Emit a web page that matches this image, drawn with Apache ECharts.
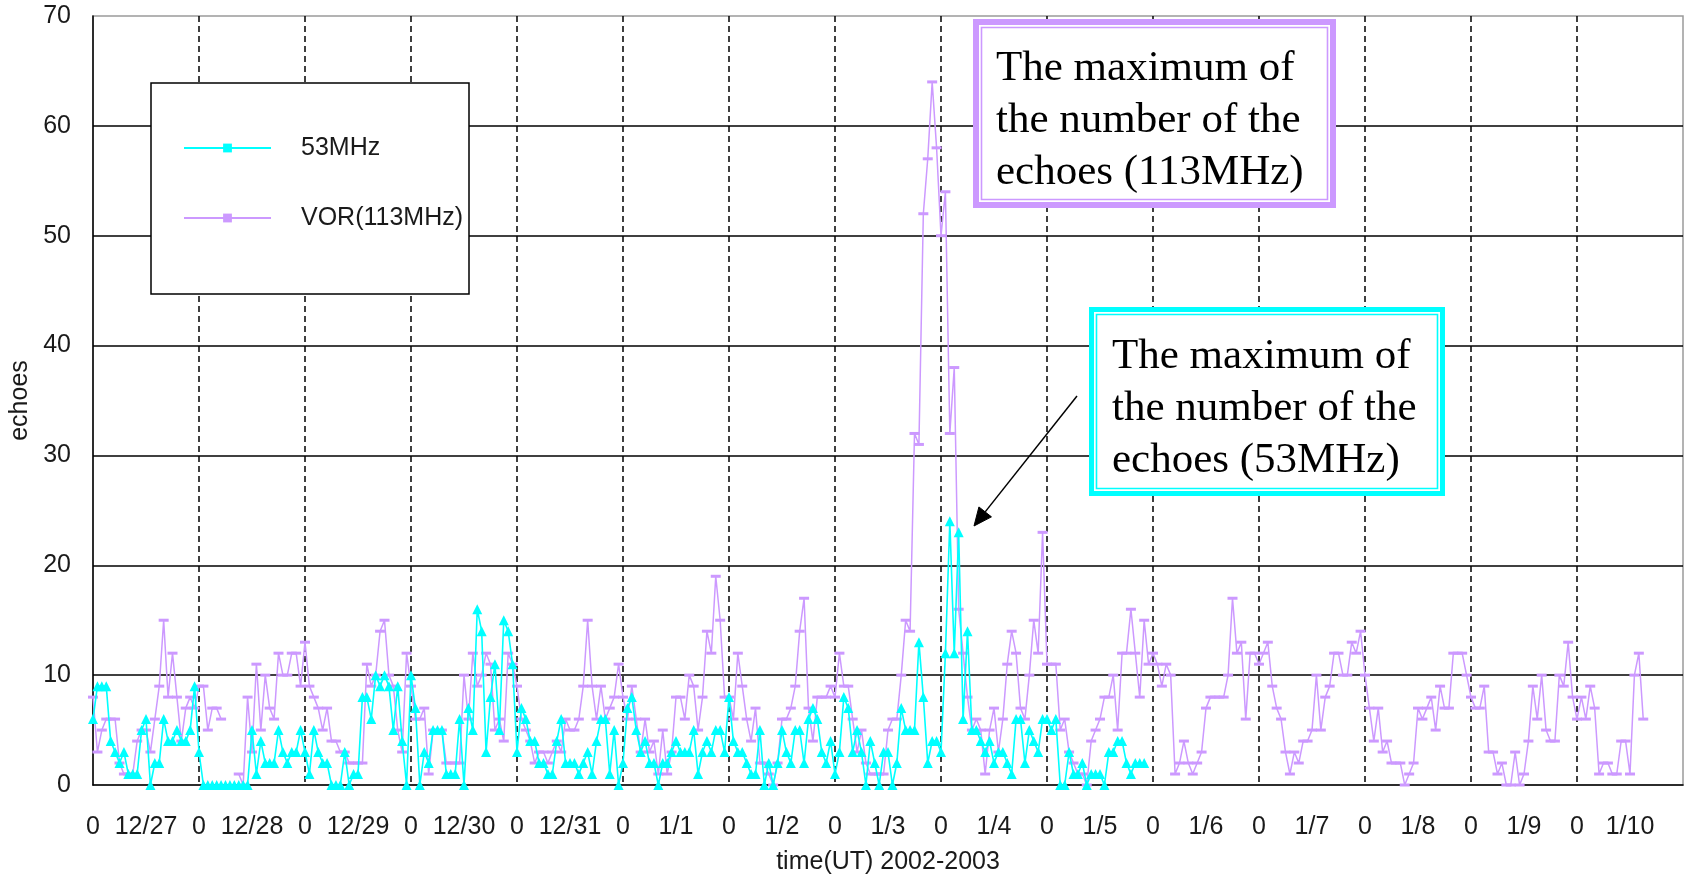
<!DOCTYPE html>
<html>
<head>
<meta charset="utf-8">
<script src="https://cdn.jsdelivr.net/npm/echarts/dist/echarts.min.js"></script>
<style>
  html, body { margin: 0; padding: 0; background: #ffffff; }
  #chart { width: 1692px; height: 878px; }
</style>
</head>
<body>
<div id="chart"></div>
<script>
// Day labels shown between the midnight ticks (12/27 .. 1/10)
const dayLabels = ['12/27', '12/28', '12/29', '12/30', '12/31', '1/1', '1/2', '1/3',
                   '1/4', '1/5', '1/6', '1/7', '1/8', '1/9', '1/10'];
const hoursSpan = 360;          // 15 days of hourly counts
const seriesNames = ['53MHz', 'VOR(113MHz)'];

// Hourly echo counts, 53 MHz radar (starts 12/27 00 UT)
const echoes53 = [
  6, 9, 9, 9, 4, 3, 2, 3, 1, 1, 1, 5, 6, 0, 2, 2, 6, 4, 4, 5, 4, 4, 5, 9,
  3, 0, 0, 0, 0, 0, 0, 0, 0, 0, 0, 0, 5, 1, 4, 2, 2, 2, 5, 3, 2, 3, 3, 5,
  3, 1, 5, 3, 2, 2, 0, 0, 0, 3, 0, 1, 1, 8, 8, 6, 10, 9, 10, 9, 5, 9, 4, 0,
  10, 7, 0, 3, 2, 5, 5, 5, 1, 1, 1, 6, 0, 7, 5, 16, 14, 3, 8, 11, 5, 15, 14, 11,
  3, 7, 6, 4, 4, 2, 2, 1, 1, 4, 6, 2, 2, 2, 1, 2, 3, 1, 4, 6, 6, 1, 5, 0,
  2, 7, 8, 5, 3, 4, 2, 2, 0, 2, 2, 3, 4, 3, 3, 3, 5, 1, 3, 4, 3, 5, 5, 3,
  8, 4, 3, 3, 2, 1, 1, 5, 0, 2, 0, 2, 5, 3, 2, 5, 5, 2, 6, 7, 6, 3, 2, 4,
  1, 3, 8, 7, 3, 5, 3, 0, 4, 2, 0, 3, 3, 0, 2, 7, 5, 5, 5, 13, 8, 2, 4, 4,
  3, 12, 24, 12, 23, 6, 14, 5, 5, 4, 3, 4, 2, 3, 3, 2, 1, 6, 6, 2, 5, 4, 3, 6,
  6, 5, 6, 0, 0, 3, 1, 1, 2, 0, 1, 1, 1, 0, 3, 3, 4, 4, 2, 1, 2, 2, 2
];

// Hourly echo counts, VOR 113 MHz (null = no data)
const echoesVOR = [
  8, 3, 5, 6, 6, 6, 2, 1, 1, 1, 4, 5, 5, 3, 6, 9, 15, 8, 12, 8, 4, 7, 8, 7,
  9, 9, 5, 7, 7, 6, null, null, null, 1, 0, 8, 3, 11, 5, 10, 7, 6, 12, 10, 10, 12, 12, 9,
  13, 9, 8, 7, 5, 7, 4, 4, 3, 3, 2, 2, 2, 2, 11, 9, 10, 14, 15, 10, 9, 5, 3, 12,
  9, 6, 6, 7, 1, 5, 5, 5, 2, 2, 2, 2, 10, 6, 12, 9, 10, 12, 11, 5, 6, 4, 12, 11,
  9, 6, 5, 4, 2, 3, 3, 2, 3, 4, 3, 6, 5, 5, 6, 9, 15, 9, 6, 9, 6, 7, 8, 11,
  8, 6, 9, 6, 3, 6, 3, 4, 1, 5, 1, 3, 8, 8, 6, 10, 9, 5, 8, 14, 12, 19, 15, 8,
  8, 6, 12, 9, 6, 4, 7, 2, 2, 1, 0, 2, 6, 6, 7, 9, 14, 17, 7, 4, 8, 8, 8, 9,
  8, 12, 9, 9, 6, 3, 5, 2, 1, 1, 1, 1, 5, 6, 6, 10, 15, 14, 32, 31, 52, 57, 64, 58,
  50, 54, 32, 38, 16, 12, 8, 5, 6, 5, 1, 5, 7, 3, 6, 11, 14, 12, 7, 6, 10, 15, 12, 23,
  11, 11, 11, 5, 6, 3, 2, 1, 1, 0, 4, 5, 6, 8, 8, 10, 5, 12, 12, 16, 12, 8, 15, 11,
  12, 11, 9, 11, 10, 1, 2, 4, 2, 1, 2, 3, 7, 8, 8, 8, 8, 10, 17, 12, 13, 6, 12, 12,
  11, 12, 13, 9, 7, 6, 3, 1, 3, 2, 4, 4, 5, 10, 5, 8, 9, 12, 12, 10, 10, 13, 12, 14,
  10, 7, 4, 7, 3, 4, 2, 2, 2, 0, 1, 2, 7, 6, 7, 8, 5, 9, 7, 7, 12, 12, 12, 10,
  8, 7, 7, 9, 3, 3, 1, 2, 0, 0, 3, 0, 1, 4, 9, 6, 10, 5, 4, 4, 10, 9, 13, 8,
  6, 8, 6, 9, 7, 1, 2, 2, 1, 1, 4, 4, 1, 10, 12, 6
];

const noteVOR = 'The maximum of\nthe number of the\nechoes (113MHz)';
const note53 = 'The maximum of\nthe number of the\nechoes (53MHz)';

const CYAN = '#00ffff';
const VIOLET = '#cc99ff';
const TEXT = '#1a1a1a';
const SANS = '"Liberation Sans", Arial, sans-serif';
const SERIF = '"Liberation Serif", "Times New Roman", serif';

const chart = echarts.init(document.getElementById('chart'), null, { renderer: 'canvas' });

// Arrow pointing at the 53 MHz peak
const arrowFrom = [1077, 396];
const arrowTip = [974, 526];
const dx = arrowTip[0] - arrowFrom[0], dy = arrowTip[1] - arrowFrom[1];
const len = Math.hypot(dx, dy);
const ux = dx / len, uy = dy / len;
const headLen = 18, headHalf = 8;
const bx = arrowTip[0] - ux * headLen, by = arrowTip[1] - uy * headLen;
const arrowHead = [
  arrowTip,
  [bx + uy * headHalf, by - ux * headHalf],
  [bx - uy * headHalf, by + ux * headHalf]
];

// Framed note: thick outer border, thin inner border, serif text
function noteBox(x, y, w, h, color, outerW, inset, text, tx, ty) {
  return [
    { type: 'rect', z: 20, shape: { x: x + outerW / 2, y: y + outerW / 2, width: w - outerW, height: h - outerW },
      style: { fill: '#ffffff', stroke: color, lineWidth: outerW } },
    { type: 'rect', z: 21, shape: { x: x + inset, y: y + inset, width: w - 2 * inset, height: h - 2 * inset },
      style: { fill: null, stroke: color, lineWidth: 1.6 } },
    { type: 'text', z: 22, x: tx, y: ty,
      style: { text: text, font: '43px ' + SERIF, fill: '#000', lineHeight: 52, verticalAlign: 'top', align: 'left' } }
  ];
}

const option = {
  animation: false,
  backgroundColor: '#ffffff',
  grid: {
    left: 93, right: 9, top: 16, bottom: 93,
    show: true, borderColor: '#9a9a9a', borderWidth: 1.5,
    outerBoundsMode: 'none'
  },
  legend: {
    data: seriesNames,
    orient: 'vertical',
    left: 183, top: 135,
    padding: 0,
    itemWidth: 87, itemHeight: 11, itemGap: 44,
    textStyle: { fontSize: 25, fontFamily: SANS, color: TEXT, padding: [0, 0, 0, 25], lineHeight: 26 },
    selectedMode: false,
    z: 10
  },
  xAxis: [
    {
      type: 'value', min: 0, max: hoursSpan, interval: 12,
      axisLine: { show: true, onZero: false, lineStyle: { color: '#000', width: 1.5 } },
      axisTick: { show: false },
      splitLine: { show: false },
      axisLabel: {
        fontSize: 25, fontFamily: SANS, color: TEXT, margin: 30,
        formatter: function (v) {
          if (v >= hoursSpan) return '';
          return v % 24 === 0 ? '0' : dayLabels[Math.floor(v / 24)];
        }
      },
      name: 'time(UT) 2002-2003',
      nameLocation: 'middle', nameGap: 65,
      nameTextStyle: { fontSize: 25, fontFamily: SANS, color: TEXT }
    },
    {
      // midnight grid lines
      type: 'value', min: 0, max: hoursSpan, interval: 24, position: 'bottom',
      axisLine: { show: false }, axisTick: { show: false }, axisLabel: { show: false },
      splitLine: { show: true, showMinLine: false, showMaxLine: false,
        lineStyle: { color: '#000', width: 1.5, type: [6, 4] } }
    }
  ],
  yAxis: {
    type: 'value', min: 0, max: 70, interval: 10,
    axisLine: { show: true, lineStyle: { color: '#000', width: 1.5 } },
    axisTick: { show: false },
    axisLabel: { fontSize: 25, fontFamily: SANS, color: TEXT, margin: 22 },
    splitLine: { show: true, showMinLine: false, showMaxLine: false, lineStyle: { color: '#000', width: 1.5 } },
    name: 'echoes', nameLocation: 'middle', nameGap: 58,
    nameTextStyle: { fontSize: 25, fontFamily: SANS, color: TEXT }
  },
  series: [
    {
      name: seriesNames[0],
      type: 'line',
      xAxisIndex: 0,
      z: 4,
      symbol: 'rect',
      symbolSize: 10,
      color: CYAN,
      lineStyle: { color: CYAN, width: 1.6 },
      itemStyle: { color: CYAN },
      data: echoes53.map((v, i) => ({ value: [i, v], symbol: 'triangle', symbolSize: [10, 10] }))
    },
    {
      name: seriesNames[1],
      type: 'line',
      xAxisIndex: 0,
      z: 3,
      symbol: 'rect',
      symbolSize: [10, 3],
      color: VIOLET,
      lineStyle: { color: VIOLET, width: 1.5 },
      itemStyle: { color: VIOLET },
      connectNulls: false,
      data: echoesVOR.map((v, i) => [i, v === null ? '-' : v])
    }
  ],
  graphic: [
    // legend frame
    { type: 'rect', z: 5, shape: { x: 151, y: 83, width: 318, height: 211 },
      style: { fill: '#ffffff', stroke: '#000', lineWidth: 1.5 } }
  ].concat(
    noteBox(973, 19, 363, 189, VIOLET, 6, 8.5, noteVOR, 996, 43),
    noteBox(1089, 307, 356, 189, CYAN, 5, 7.5, note53, 1112, 331),
    [
      { type: 'polyline', z: 20, shape: { points: [arrowFrom, [bx, by]] },
        style: { stroke: '#000', lineWidth: 1.5, fill: null } },
      { type: 'polygon', z: 20, shape: { points: arrowHead },
        style: { fill: '#000', stroke: '#000', lineWidth: 1 } }
    ]
  )
};

chart.setOption(option);
</script>
</body>
</html>
